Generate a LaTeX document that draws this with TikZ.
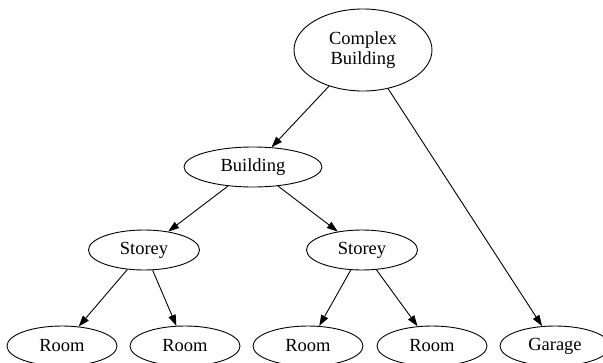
\documentclass[tikz,border=0pt]{standalone}
\usepackage{fontspec}
\setmainfont{Liberation Serif}
\usetikzlibrary{shapes.geometric,arrows.meta}
\begin{document}
\begin{tikzpicture}[x=1pt,y=-1pt,
  nd/.style={ellipse,draw,line width=0.9pt,inner sep=0pt,minimum height=40pt,
    font=\fontsize{18.5}{20.5}\selectfont,align=center},
  edge/.style={line width=0.9pt,-{Triangle[length=11pt,width=7.5pt]}}]
\clip (0,0) rectangle (603,362);
\node[nd,minimum width=138pt,minimum height=82pt] (cb) at (363,50) {Complex\\Building};
\node[nd,minimum width=138pt] (b) at (253,167) {Building};
\node[nd,minimum width=111pt] (s1) at (144,250) {Storey};
\node[nd,minimum width=111pt] (s2) at (362,250) {Storey};
\node[nd,minimum width=110pt] (r1) at (62,346) {Room};
\node[nd,minimum width=110pt] (r2) at (185,346) {Room};
\node[nd,minimum width=110pt] (r3) at (308,346) {Room};
\node[nd,minimum width=110pt] (r4) at (432,346) {Room};
\node[nd,minimum width=110pt] (g) at (555,346) {Garage};
\draw[edge] (cb) -- (b);
\draw[edge] (cb) -- (g);
\draw[edge] (b) -- (s1);
\draw[edge] (b) -- (s2);
\draw[edge] (s1) -- (r1);
\draw[edge] (s1) -- (r2);
\draw[edge] (s2) -- (r3);
\draw[edge] (s2) -- (r4);
\end{tikzpicture}
\end{document}
